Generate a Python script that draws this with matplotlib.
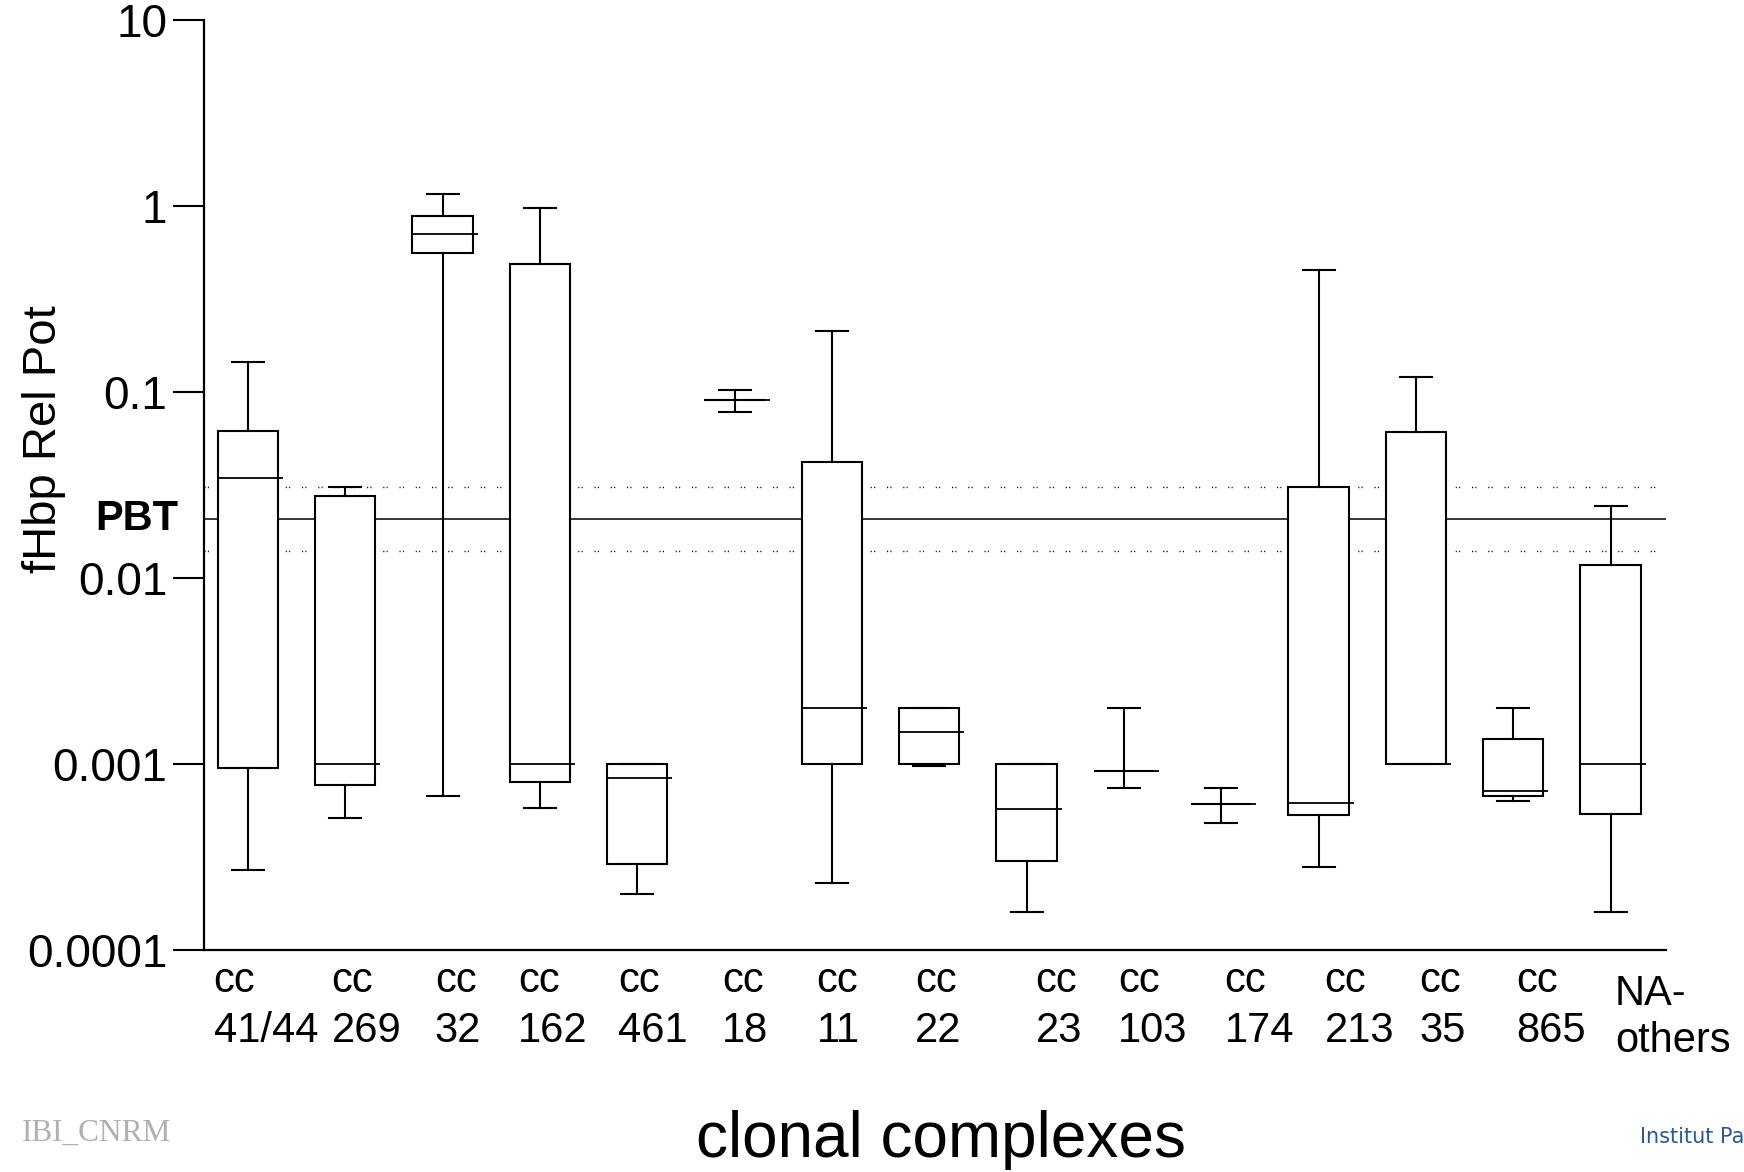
import matplotlib
matplotlib.use("Agg")
import matplotlib.pyplot as plt
from matplotlib import transforms
from matplotlib.ticker import FixedLocator, FixedFormatter, NullLocator

plt.rcParams['font.family'] = ['Liberation Sans', 'DejaVu Sans']

# clonal complexes (x categories)
labels = ['cc\n41/44', 'cc\n269', 'cc\n32', 'cc\n162', 'cc\n461', 'cc\n18', 'cc\n11',
          'cc\n22', 'cc\n23', 'cc\n103', 'cc\n174', 'cc\n213', 'cc\n35', 'cc\n865',
          'NA-\nothers']

# box statistics of fHbp Rel Pot
whis_hi = [0.145, 0.031, 1.16, 0.973, 0.001, 0.103, 0.213, 0.002, 0.001, 0.002,
           0.00074, 0.45, 0.12, 0.002, 0.0245]
q3 = [0.0617, 0.0277, 0.884, 0.488, 0.001, 0.09, 0.042, 0.002, 0.001, 0.00092,
      0.00061, 0.031, 0.0609, 0.00137, 0.0118]
med = [0.0346, 0.001, 0.708, 0.001, 0.00084, 0.09, 0.002, 0.00149, 0.00057, 0.00092,
       0.00061, 0.00062, 0.001, 0.00072, 0.001]
q1 = [0.00095, 0.00077, 0.561, 0.0008, 0.00029, 0.09, 0.001, 0.001, 0.0003, 0.00092,
      0.00061, 0.00053, 0.001, 0.00067, 0.00054]
whis_lo = [0.00027, 0.00051, 0.00067, 0.00058, 0.0002, 0.078, 0.00023, 0.00098, 0.00016,
           0.00074, 0.00048, 0.00028, 0.001, 0.00063, 0.00016]

# PBT threshold and its interval
pbt = 0.0207
pbt_lo = 0.0139
pbt_hi = 0.031

yticks = [0.0001, 0.001, 0.01, 0.1, 1, 10]
yticklabels = ['0.0001', '0.001', '0.01', '0.1', '1', '10']

# left edge of each category label (labels are not centred under the boxes)
label_x = [0.646, 1.857, 2.92, 3.777, 4.806, 5.869, 6.84, 7.857, 9.091, 9.937,
           11.034, 12.063, 13.034, 14.029, 15.046]

fig = plt.figure(figsize=(17.44, 11.72), dpi=100)
ax = fig.add_axes([0.1167, 0.1894, 0.8386, 0.7936])

positions = list(range(1, len(labels) + 1))
stats = []
for i in range(len(labels)):
    stats.append(dict(med=med[i], q1=q1[i], q3=q3[i], whislo=whis_lo[i],
                      whishi=whis_hi[i], fliers=[]))

bp = ax.bxp(stats, positions=positions, widths=0.62, capwidths=0.33,
            patch_artist=True, showfliers=False, manage_ticks=False,
            boxprops=dict(facecolor='white', edgecolor='black', linewidth=1.5),
            medianprops=dict(color='black', linewidth=1.3),
            whiskerprops=dict(color='black', linewidth=1.5),
            capprops=dict(color='black', linewidth=1.5), zorder=3)

# median lines poke out a bit to the right of the box
for line in bp['medians']:
    xs = line.get_xdata()
    line.set_xdata([xs[0], xs[1] + 0.05])

# PBT reference lines
ax.axhline(pbt, color='black', lw=1.1, zorder=1)
ax.axhline(pbt_hi, xmax=0.995, color='black', lw=1.0, ls=(0, (0.8, 1.6, 0.8, 8.5)), zorder=1)
ax.axhline(pbt_lo, xmax=0.995, color='black', lw=1.0, ls=(0, (0.8, 1.6, 0.8, 8.5)), zorder=1)

ax.set_yscale('log')
ax.set_ylim(0.0001, 10)
ax.set_xlim(0.543, 15.57)
ax.yaxis.set_major_locator(FixedLocator(yticks))
ax.yaxis.set_major_formatter(FixedFormatter(yticklabels))
ax.yaxis.set_minor_locator(NullLocator())
ax.set_xticks([])
ax.tick_params(axis='y', length=22, width=1.5, pad=4, labelsize=33)

for side in ['top', 'right']:
    ax.spines[side].set_visible(False)
for side in ['left', 'bottom']:
    ax.spines[side].set_linewidth(1.6)

ax.set_ylabel('fHbp Rel Pot', fontsize=34)
ax.yaxis.set_label_coords(-0.094, 0.549)

# PBT label to the left of the axis
trans = transforms.blended_transform_factory(ax.transAxes, ax.transData)
ax.text(-0.0174, pbt, 'PBT', transform=trans, ha='right', va='center',
        fontsize=30, fontweight='bold')

# category labels
xtrans = transforms.blended_transform_factory(ax.transData, ax.transAxes)
for i, lab in enumerate(labels):
    if lab.startswith('NA'):
        yy, ls = -0.026, 1.22
    else:
        yy, ls = -0.012, 1.32
    ax.text(label_x[i], yy, lab, transform=xtrans, ha='left', va='top',
            fontsize=30, linespacing=ls, clip_on=False)

fig.text(0.5396, 0.0273, 'clonal complexes', ha='center', va='center', fontsize=46)
fig.text(0.0126, 0.0265, 'IBI_CNRM', ha='left', va='baseline', fontsize=22.5,
         family=['Liberation Serif', 'DejaVu Serif'], color='#b0b0b0')
fig.text(0.9405, 0.0245, 'Institut Pa', ha='left', va='baseline', fontsize=15,
         family=['DejaVu Sans'], color='#2b5797')

fig.savefig('out.png', dpi=100)
